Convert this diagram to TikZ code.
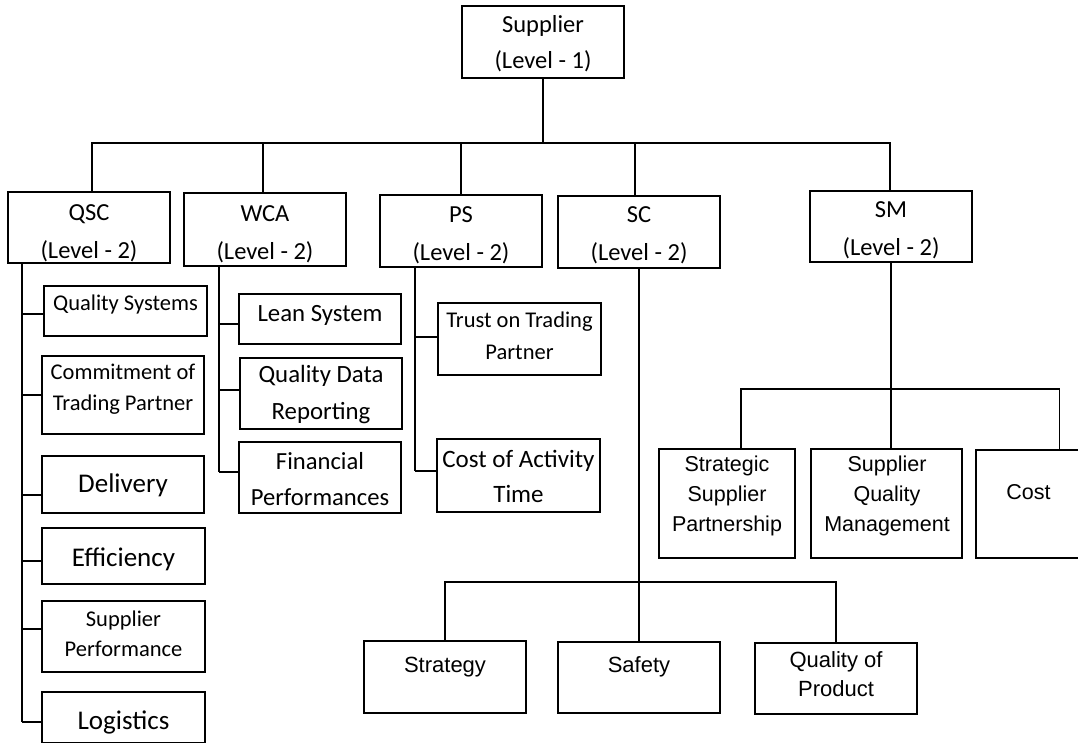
\documentclass[tikz,border=0pt]{standalone}
\usepackage{fontspec}
\setmainfont{Carlito}
\newfontfamily\arialfont{Liberation Sans}
\usetikzlibrary{fit}

% horizontal feeder from a vertical trunk into the west side of a box
\newcommand\branchto[3]{%
  \path ([yshift=#3]#2.west) coordinate (#2-in);
  \draw[link] (#1 |- #2-in) -- (#2-in);}

\begin{document}
\begin{tikzpicture}[x=1pt,y=-1pt,
  box/.style={draw, line width=1.6pt, inner sep=0pt, outer sep=0pt},
  link/.style={line width=1.6pt},
  lbl/.style={align=center, inner sep=0pt},
  sans/.style={lbl, font=\arialfont\fontsize{21.5}{30}\selectfont},
]
\useasboundingbox (0,0) rectangle (1078,744);

% ---------- level 1 ----------
\node[box, fit={(462,6)(624,78)}] (sup) {};
\node[lbl, font=\fontsize{24.5}{36}\selectfont] (sup-t) at (543,44) {Supplier\\(Level - 1)};

% ---------- level 2 ----------
\node[box, fit={(8,192)(170,263)}]   (qsc) {};
\node[box, fit={(184,193)(346,266)}] (wca) {};
\node[box, fit={(380,195)(542,267)}] (ps)  {};
\node[box, fit={(558,196)(720,268)}] (sc)  {};
\node[box, fit={(810,191)(972,262)}] (sm)  {};
\begin{scope}[every node/.style={lbl, font=\fontsize{24.5}{38}\selectfont}]
  \node (qsc-t) at (89,233)    {QSC\\(Level - 2)};
  \node (wca-t) at (265,234)   {WCA\\(Level - 2)};
  \node (ps-t)  at (461,235)   {PS\\(Level - 2)};
  \node (sc-t)  at (639,235.5) {SC\\(Level - 2)};
  \node (sm-t)  at (891,230)   {SM\\(Level - 2)};
\end{scope}

% ---------- QSC children ----------
\node[box, fit={(44,286)(207,336)}] (qs)  {};
\node[box, fit={(42,356)(204,434)}] (ctp) {};
\node[box, fit={(42,456)(204,513)}] (dl)  {};
\node[box, fit={(42,528)(205,584)}] (ef)  {};
\node[box, fit={(42,601)(205,672)}] (spf) {};
\node[box, fit={(42,692)(205,742.5)}] (lg) {};
\node[lbl, font=\fontsize{22.5}{31}\selectfont] (qs-t)  at (125.5,304) {Quality Systems};
\node[lbl, font=\fontsize{22.5}{31}\selectfont] (ctp-t) at (123,389.5) {Commitment of\\Trading Partner};
\node[lbl, font=\fontsize{27}{32}\selectfont]   (dl-t)  at (123,485)   {Delivery};
\node[lbl, font=\fontsize{27}{32}\selectfont]   (ef-t)  at (123.5,559) {Efficiency};
\node[lbl, font=\fontsize{22.5}{30}\selectfont] (spf-t) at (123.5,634) {Supplier\\Performance};
\node[lbl, font=\fontsize{27}{32}\selectfont]   (lg-t)  at (123.5,722) {Logistics};

% ---------- WCA children ----------
\node[box, fit={(239,294)(401,344)}] (ls)  {};
\node[box, fit={(240,358)(402,429)}] (qdr) {};
\node[box, fit={(239,442)(401,513)}] (fp)  {};
\node[lbl, font=\fontsize{24.8}{37}\selectfont] (ls-t)  at (320,315)   {Lean System};
\node[lbl, font=\fontsize{24.8}{37}\selectfont] (qdr-t) at (321,394.5) {Quality Data\\Reporting};
\node[lbl, font=\fontsize{24.6}{36}\selectfont] (fp-t)  at (320,479)   {Financial\\Performances};

% ---------- PS children ----------
\node[box, fit={(438,303)(601,375)}] (tr) {};
\node[box, fit={(437,439)(600,512)}] (ca) {};
\node[lbl, font=\fontsize{22.5}{32}\selectfont] (tr-t) at (519.5,336)   {Trust on Trading\\Partner};
\node[lbl, font=\fontsize{25}{35}\selectfont]   (ca-t) at (518.5,476.5) {Cost of Activity\\Time};

% ---------- SM children ----------
\node[box, fit={(659,449)(795,558)}]  (ssp)  {};
\node[box, fit={(811,449)(962,558)}]  (sqm)  {};
\node[box, fit={(976,450)(1082,558)}] (cost) {};
\node[sans] (ssp-t)  at (727,496)    {Strategic\\Supplier\\Partnership};
\node[sans] (sqm-t)  at (887,496)    {Supplier\\Quality\\Management};
\node[sans] (cost-t) at (1028.5,492) {Cost};

% ---------- SC children ----------
\node[box, fit={(364,641)(526,713)}] (st) {};
\node[box, fit={(558,642)(720,713)}] (sf) {};
\node[box, fit={(755,643)(917,714)}] (qp) {};
\node[sans, font=\arialfont\fontsize{22}{29}\selectfont] (st-t) at (445,667)   {Strategy};
\node[sans, font=\arialfont\fontsize{22}{29}\selectfont] (sf-t) at (639,667)   {Safety};
\node[sans, font=\arialfont\fontsize{22}{29}\selectfont] (qp-t) at (836,674.5) {Quality of\\Product};

% ---------- level 1 -> level 2 ----------
\coordinate (bus1) at (0,143);
\path ([xshift=3pt]qsc.north) coordinate (qsc-in)
      ([xshift=-2pt]wca.north) coordinate (wca-in)
      (ps.north) coordinate (ps-in)
      ([xshift=-4pt]sc.north) coordinate (sc-in)
      ([xshift=-1pt]sm.north) coordinate (sm-in);
\draw[link] (sup.south) -- (sup.south |- bus1);
\draw[link] (qsc-in) -- (qsc-in |- bus1) -- (sm-in |- bus1) -- (sm-in);
\foreach \n in {wca,ps,sc}
  \draw[link] (\n-in) -- (\n-in |- bus1);

% ---------- QSC trunk ----------
\coordinate (qx) at (22,0);
\branchto{qx}{qs}{-3pt}
\branchto{qx}{ctp}{0pt}
\branchto{qx}{dl}{-10.5pt}
\branchto{qx}{ef}{-5pt}
\branchto{qx}{spf}{7.5pt}
\branchto{qx}{lg}{-4.75pt}
\draw[link] (qx |- qsc.south) -- (qx |- lg-in);

% ---------- WCA trunk ----------
\coordinate (wx) at (219,0);
\branchto{wx}{ls}{-5pt}
\branchto{wx}{qdr}{3.5pt}
\branchto{wx}{fp}{5.5pt}
\draw[link] (wx |- wca.south) -- (wx |- fp-in);

% ---------- PS trunk ----------
\coordinate (px) at (415,0);
\branchto{px}{tr}{2pt}
\branchto{px}{ca}{4.5pt}
\draw[link] (px |- ps.south) -- (px |- ca-in);

% ---------- SM fan-out ----------
\coordinate (bus2) at (0,389);
\path ([xshift=14pt]ssp.north) coordinate (ssp-in)
      ([xshift=30.5pt]cost.north) coordinate (cost-in);
\draw[link] (sm.south) -- (sm.south |- sqm.north);
\draw[link] (ssp-in) -- (ssp-in |- bus2) -- (cost-in |- bus2) -- (cost-in);

% ---------- SC fan-out ----------
\coordinate (bus3) at (0,582);
\draw[link] (sc.south) -- (sc.south |- bus3);
\draw[link] (st.north) -- (st.north |- bus3) -- (qp.north |- bus3) -- (qp.north);
\draw[link] (sf.north) -- (sf.north |- bus3);
\end{tikzpicture}
\end{document}
